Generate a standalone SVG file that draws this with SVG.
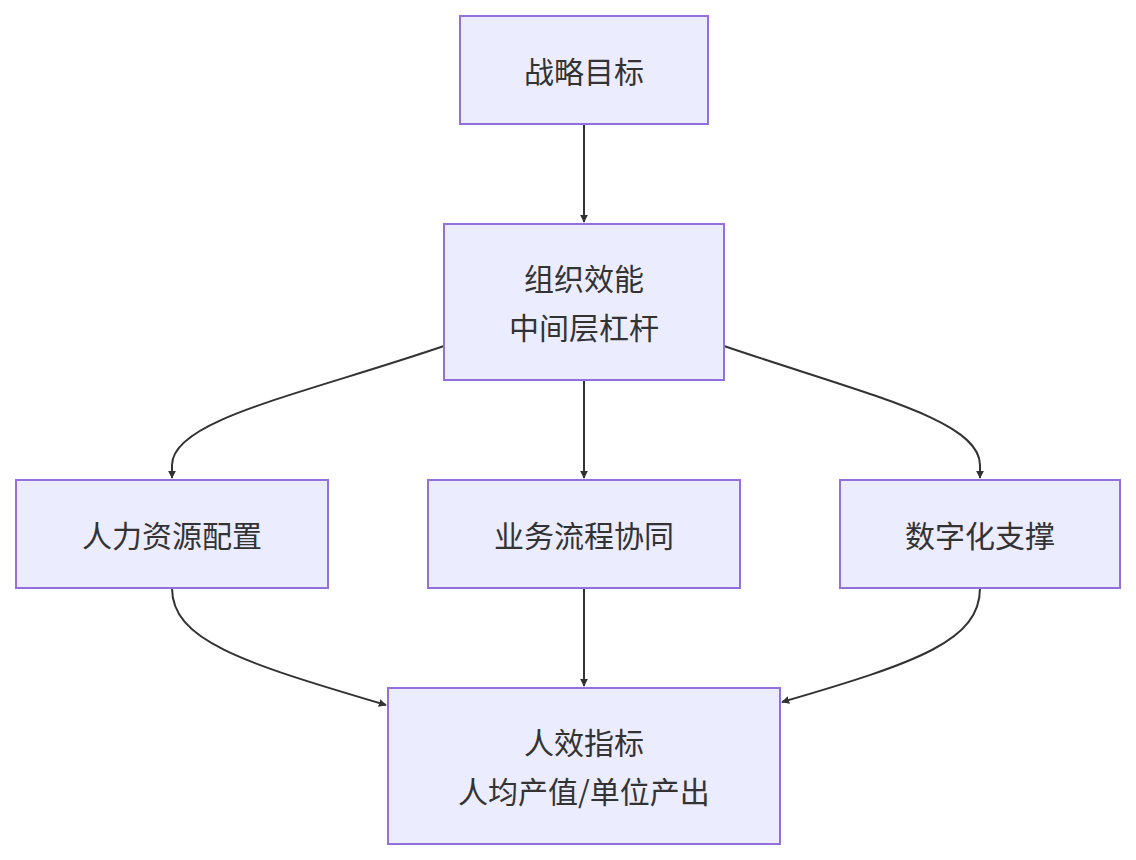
<svg xmlns="http://www.w3.org/2000/svg" width="1136" height="860" viewBox="0 0 1136 860">
<style>
.n rect{fill:#ECECFF;stroke:#9370DB;stroke-width:2}
.n text{font-family:"Noto Sans CJK SC","Liberation Sans",sans-serif;font-size:30px;fill:#333;text-anchor:middle;dominant-baseline:central}
.e path{fill:none;stroke:#333;stroke-width:2;marker-end:url(#ah)}
</style>
<defs><marker id="ah" viewBox="0 0 10 10" refX="9" refY="5" markerWidth="8" markerHeight="8" orient="auto" markerUnits="userSpaceOnUse"><path d="M0,0L10,5L0,10z" fill="#333"/></marker></defs>
<rect width="1136" height="860" fill="#fff"/>
<g class="e">
<path d="M584,124V222"/>
<path d="M444,346C300,395 172,420 172,465V478"/>
<path d="M584,380V478"/>
<path d="M724,346C868,395 980,420 980,465V478"/>
<path d="M172,588C172,640 240,662 386,705"/>
<path d="M584,588V686"/>
<path d="M980,588C980,640 920,662 782,702"/>
</g>
<g id="A" class="n"><rect x="460" y="16" width="248" height="108"/><text x="584" y="70">战略目标</text></g>
<g id="B" class="n"><rect x="444" y="224" width="280" height="156"/><text x="584" y="277">组织效能</text><text x="584" y="326">中间层杠杆</text></g>
<g id="C" class="n"><rect x="16" y="480" width="312" height="108"/><text x="172" y="534">人力资源配置</text></g>
<g id="D" class="n"><rect x="428" y="480" width="312" height="108"/><text x="584" y="534">业务流程协同</text></g>
<g id="E" class="n"><rect x="840" y="480" width="280" height="108"/><text x="980" y="534">数字化支撑</text></g>
<g id="F" class="n"><rect x="388" y="688" width="392" height="156"/><text x="584" y="741">人效指标</text><text x="584" y="790">人均产值/单位产出</text></g>
</svg>
